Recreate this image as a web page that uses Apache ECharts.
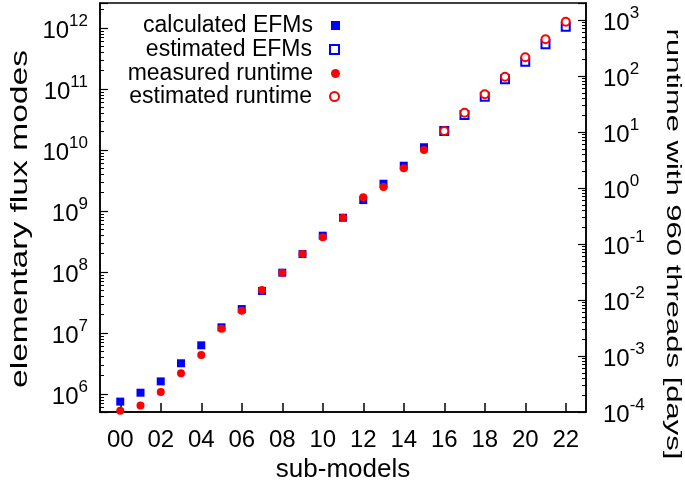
<!DOCTYPE html>
<html>
<head>
<meta charset="utf-8">
<script src="https://cdn.jsdelivr.net/npm/echarts@6/dist/echarts.min.js"></script>
<style>
  html, body { margin: 0; padding: 0; background: #fff; }
  #chart { width: 685px; height: 485px; }
</style>
</head>
<body>
<div id="chart"></div>
<script>
// sub-models 00..22
const categories = ['00','01','02','03','04','05','06','07','08','09','10','11','12','13','14','15','16','17','18','19','20','21','22'];
// sub-models 00..15 were computed, 16..22 estimated
const estimatedFrom = 16;

const calculatedEFMs = [7.5e5, 1.05e6, 1.61e6, 3.19e6, 6.28e6, 1.24e7, 2.47e7, 4.88e7,
  9.75e7, 1.97e8, 3.94e8, 7.76e8, 1.51e9, 2.8e9, 5.53e9, 1.11e10];
const estimatedEFMs = [2.05e10, 3.75e10, 7.48e10, 1.44e11, 2.8e11, 5.41e11, 1.05e12];

// runtime [days]
const measuredRuntime = [1.05e-4, 1.3e-4, 2.28e-4, 4.91e-4, 1.04e-3, 3.07e-3, 6.44e-3, 1.51e-2,
  3.07e-2, 6.63e-2, 0.132, 0.295, 0.683, 1.04, 2.25, 4.77];
const estimatedRuntime = [10.4, 22.1, 47.1, 97.2, 216, 452, 933];

const FONT = '"Liberation Sans", Arial, Helvetica, sans-serif';
const BLUE = '#0000ff';
const RED = '#ff0000';

// x axis gets an empty slot on each side, like the original plot
const xData = [' '].concat(categories, ['  ']);
const toPoints = (vals, start) => vals.map((v, i) => [start + i + 1, v]);

const powLabel = (v) => {
  const l = Math.log10(v);
  const e = Math.round(l);
  if (Math.abs(l - e) > 1e-6) return '';
  return '{b|10}{s|' + e + '}';
};
const powRich = {
  b: { fontSize: 24, fontFamily: FONT, color: '#000', verticalAlign: 'bottom', lineHeight: 30 },
  s: { fontSize: 17, fontFamily: FONT, color: '#000', verticalAlign: 'top', lineHeight: 30 }
};

const legendRow = (name, top) => ({
  data: [name],
  orient: 'vertical',
  right: 345,
  top: top,
  padding: 0,
  align: 'right',
  itemWidth: 9,
  itemHeight: 9,
  selectedMode: false,
  textStyle: { fontSize: 23, fontFamily: FONT, color: '#000', padding: [0, 13, 0, 0] }
});

const yTick = { show: true, inside: true, length: 8, lineStyle: { color: '#000', width: 1.2 } };
const yMinor = { show: true, splitNumber: 9, length: 4, lineStyle: { color: '#000', width: 1 } };

const chart = echarts.init(document.getElementById('chart'));

chart.setOption({
  animation: false,
  backgroundColor: '#fff',
  grid: {
    left: 100, right: 99, top: 3, bottom: 73,
    show: true, borderColor: '#000', borderWidth: 1.5,
    containLabel: false, outerBoundsMode: 'none'
  },
  legend: [
    legendRow('calculated EFMs', 14),
    legendRow('estimated EFMs', 38),
    legendRow('measured runtime', 62),
    legendRow('estimated runtime', 85)
  ],
  xAxis: {
    type: 'category',
    data: xData,
    boundaryGap: false,
    name: 'sub-models',
    nameLocation: 'middle',
    nameGap: 43,
    nameTextStyle: { fontSize: 26, fontFamily: FONT, color: '#000' },
    axisLine: { show: true, lineStyle: { color: '#000', width: 1.5 } },
    axisTick: { show: true, inside: true, length: 9, interval: (i) => i % 2 === 1, lineStyle: { color: '#000', width: 1.5 } },
    axisLabel: { interval: (i) => i % 2 === 1, margin: 16, fontSize: 24, fontFamily: FONT, color: '#000' },
    splitLine: { show: false }
  },
  yAxis: [
    {
      type: 'log', logBase: 10,
      min: 5.07e5, max: 2.57e12,
      position: 'left',
      axisLine: { show: true, lineStyle: { color: '#000', width: 1.5 } },
      axisTick: yTick,
      minorTick: yMinor,
      axisLabel: { margin: 12, formatter: powLabel, rich: powRich },
      splitLine: { show: false }
    },
    {
      type: 'log', logBase: 10,
      min: 1e-4, max: 2.01e3,
      position: 'right',
      axisLine: { show: true, lineStyle: { color: '#000', width: 1.5 } },
      axisTick: yTick,
      minorTick: yMinor,
      axisLabel: { margin: 17, formatter: powLabel, rich: powRich },
      splitLine: { show: false }
    }
  ],
  graphic: [
    {
      type: 'text', x: 20, y: 219, rotation: Math.PI / 2, scaleX: 1.4,
      style: { text: 'elementary flux modes', font: '24px ' + FONT, fill: '#000', textAlign: 'center', textVerticalAlign: 'middle' }
    },
    {
      type: 'text', x: 673, y: 244, rotation: -Math.PI / 2, scaleX: 1.55,
      style: { text: 'runtime with 960 threads [days]', font: '20px ' + FONT, fill: '#000', textAlign: 'center', textVerticalAlign: 'middle' }
    }
  ],
  series: [
    {
      name: 'calculated EFMs', type: 'scatter', yAxisIndex: 0,
      symbol: 'rect', symbolSize: 8,
      itemStyle: { color: BLUE, opacity: 1 },
      data: toPoints(calculatedEFMs, 0)
    },
    {
      name: 'estimated EFMs', type: 'scatter', yAxisIndex: 0,
      symbol: 'rect', symbolSize: 8,
      itemStyle: { color: '#fff', borderColor: BLUE, borderWidth: 2, opacity: 1 },
      data: toPoints(estimatedEFMs, estimatedFrom)
    },
    {
      name: 'measured runtime', type: 'scatter', yAxisIndex: 1,
      symbol: 'circle', symbolSize: 8,
      itemStyle: { color: RED, opacity: 1 },
      data: toPoints(measuredRuntime, 0)
    },
    {
      name: 'estimated runtime', type: 'scatter', yAxisIndex: 1,
      symbol: 'circle', symbolSize: 8,
      itemStyle: { color: '#fff', borderColor: RED, borderWidth: 2, opacity: 1 },
      data: toPoints(estimatedRuntime, estimatedFrom)
    }
  ]
});
</script>
</body>
</html>
